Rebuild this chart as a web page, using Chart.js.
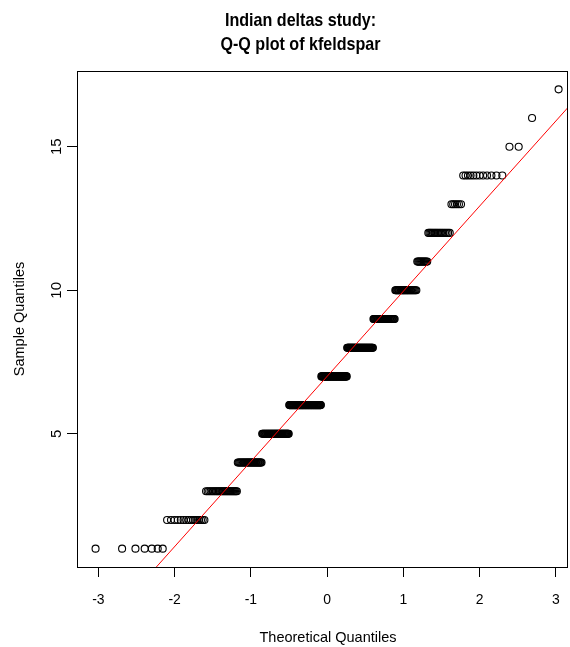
<!DOCTYPE html>
<html>
<head>
<meta charset="utf-8">
<script src="https://cdn.jsdelivr.net/npm/chart.js@4"></script>
<style>
  html, body { margin: 0; padding: 0; background: #fff; }
  #wrap { width: 570px; height: 647px; }
</style>
</head>
<body>
<div id="wrap"><canvas id="qq" width="570" height="647"></canvas></div>
<script>
// kfeldspar values and how many samples took each value
const sampleValues = [1, 2, 3, 4, 5, 6, 7, 8, 9, 10, 11, 12, 13, 14, 15, 16, 17];
const sampleCounts = [7, 16, 27, 32, 47, 67, 56, 52, 36, 28, 11, 17, 6, 12, 2, 1, 1];

const xTicks = [-3, -2, -1, 0, 1, 2, 3];
const yTicks = [5, 10, 15];
const titleLines = ['Indian deltas study:', 'Q-Q plot of kfeldspar'];
const xTitle = 'Theoretical Quantiles';
const yTitle = 'Sample Quantiles';

const xMin = -3.28, xMax = 3.16;
const yMin = 0.36, yMax = 17.64;

// inverse normal cdf (Acklam)
function qnorm(p) {
  const a = [-3.969683028665376e+01, 2.209460984245205e+02, -2.759285104469687e+02, 1.383577518672690e+02, -3.066479806614716e+01, 2.506628277459239e+00];
  const b = [-5.447609879822406e+01, 1.615858368580409e+02, -1.556989798598866e+02, 6.680131188771972e+01, -1.328068155288572e+01];
  const c = [-7.784894002430293e-03, -3.223964580411365e-01, -2.400758277161838e+00, -2.549732539343734e+00, 4.374664141464968e+00, 2.938163982698783e+00];
  const d = [7.784695709041462e-03, 3.224671290700398e-01, 2.445134137142996e+00, 3.754408661907416e+00];
  const plow = 0.02425;
  let q, r;
  if (p < plow) {
    q = Math.sqrt(-2 * Math.log(p));
    return (((((c[0]*q+c[1])*q+c[2])*q+c[3])*q+c[4])*q+c[5]) / ((((d[0]*q+d[1])*q+d[2])*q+d[3])*q+1);
  }
  if (p > 1 - plow) {
    q = Math.sqrt(-2 * Math.log(1 - p));
    return -(((((c[0]*q+c[1])*q+c[2])*q+c[3])*q+c[4])*q+c[5]) / ((((d[0]*q+d[1])*q+d[2])*q+d[3])*q+1);
  }
  q = p - 0.5; r = q * q;
  return (((((a[0]*r+a[1])*r+a[2])*r+a[3])*r+a[4])*r+a[5])*q / (((((b[0]*r+b[1])*r+b[2])*r+b[3])*r+b[4])*r+1);
}

// sorted sample, paired with normal plotting positions like qqnorm
const sample = [];
sampleValues.forEach((v, i) => { for (let k = 0; k < sampleCounts[i]; k++) sample.push(v); });
const n = sample.length;
const a = n <= 10 ? 3 / 8 : 0.5;
const qqPoints = sample.map((v, i) => ({ x: qnorm((i + 1 - a) / (n + 1 - 2 * a)), y: v }));

// qqline through the 1st and 3rd quartiles (type 7)
function quantile(sorted, p) {
  const h = (sorted.length - 1) * p;
  const lo = Math.floor(h);
  return sorted[lo] + (h - lo) * ((sorted[lo + 1] ?? sorted[lo]) - sorted[lo]);
}
const q1 = quantile(sample, 0.25), q3 = quantile(sample, 0.75);
const slope = (q3 - q1) / (qnorm(0.75) - qnorm(0.25));
const intercept = q1 - slope * qnorm(0.25);
const linePoints = [xMin, xMax].map(x => ({ x: x, y: intercept + slope * x }));

const textFont = '"Liberation Sans", Arial, sans-serif';

const annotate = {
  id: 'annotate',
  afterDraw(chart) {
    const { ctx, chartArea } = chart;
    const xs = chart.scales.x, ys = chart.scales.y;
    ctx.save();
    // plot box
    ctx.strokeStyle = '#000';
    ctx.lineWidth = 1;
    ctx.strokeRect(Math.round(chartArea.left) + 0.5, Math.round(chartArea.top) + 0.5,
      Math.round(chartArea.right - chartArea.left) - 1, Math.round(chartArea.bottom - chartArea.top));

    ctx.fillStyle = '#000';
    ctx.textAlign = 'center';
    ctx.textBaseline = 'alphabetic';
    // main title, two bold lines
    ctx.font = 'bold 18.5px ' + textFont;
    [26.2, 49.6].forEach((base, i) => {
      ctx.save();
      ctx.translate(300.5, base);
      ctx.scale(0.87, 1);
      ctx.fillText(titleLines[i], 0, 0);
      ctx.restore();
    });

    // axis titles
    ctx.font = '14.5px ' + textFont;
    ctx.fillText(xTitle, 328, 642);
    ctx.save();
    ctx.translate(24, (chartArea.top + chartArea.bottom) / 2);
    ctx.rotate(-Math.PI / 2);
    ctx.fillText(yTitle, 0, 0);
    ctx.restore();

    // tick labels
    ctx.font = '15px ' + textFont;
    xTicks.forEach(v => {
      ctx.save();
      ctx.translate(xs.getPixelForValue(v), 603.5);
      ctx.scale(0.93, 1);
      ctx.fillText(String(v), 0, 0);
      ctx.restore();
    });
    yTicks.forEach(v => {
      ctx.save();
      ctx.translate(61, ys.getPixelForValue(v));
      ctx.rotate(-Math.PI / 2);
      ctx.fillText(String(v), 0, 0);
      ctx.restore();
    });
    ctx.restore();
  }
};

new Chart(document.getElementById('qq'), {
  type: 'scatter',
  data: {
    datasets: [{
      data: qqPoints,
      pointStyle: 'circle',
      pointRadius: 3.5,
      pointHoverRadius: 3.5,
      borderWidth: 1.1,
      borderColor: '#000',
      backgroundColor: 'rgba(0,0,0,0)',
      order: 2
    }, {
      type: 'line',
      data: linePoints,
      borderColor: '#ff0000',
      borderWidth: 1,
      pointRadius: 0,
      fill: false,
      order: 1
    }]
  },
  options: {
    responsive: false,
    animation: false,
    devicePixelRatio: 1,
    layout: { autoPadding: false, padding: { top: 71, right: 2, left: 0, bottom: 0 } },
    plugins: { legend: { display: false }, tooltip: { enabled: false }, title: { display: false } },
    scales: {
      x: {
        type: 'linear',
        min: xMin,
        max: xMax,
        afterBuildTicks: s => { s.ticks = xTicks.map(v => ({ value: v })); },
        afterFit: s => { s.height = 80; },
        grid: { drawOnChartArea: false, drawTicks: true, tickLength: 10, color: '#000' },
        border: { display: false },
        ticks: { display: false }
      },
      y: {
        type: 'linear',
        min: yMin,
        max: yMax,
        afterBuildTicks: s => { s.ticks = yTicks.map(v => ({ value: v })); },
        afterFit: s => { s.width = 77; },
        grid: { drawOnChartArea: false, drawTicks: true, tickLength: 10, color: '#000' },
        border: { display: false },
        ticks: { display: false }
      }
    }
  },
  plugins: [annotate]
});
</script>
</body>
</html>
